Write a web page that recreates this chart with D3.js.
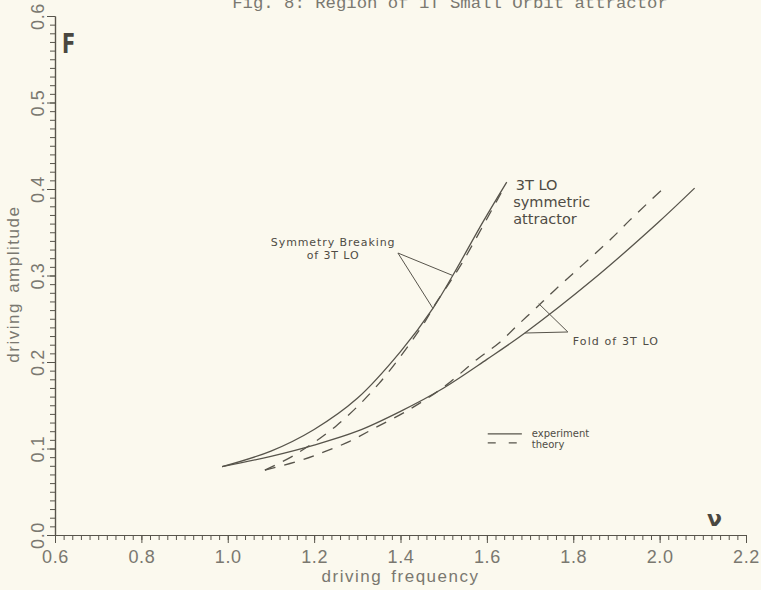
<!DOCTYPE html>
<html><head><meta charset="utf-8">
<script src="https://cdn.jsdelivr.net/npm/d3@7"></script>
<style>
html,body{margin:0;padding:0;background:#fbf9ee;}
svg{display:block;}
</style></head>
<body>
<svg id="chart" width="761" height="590"></svg>
<script>
// ---- data (driving frequency ν, driving amplitude F) ----
const xTickValues = [0.6, 0.8, 1.0, 1.2, 1.4, 1.6, 1.8, 2.0, 2.2];
const yTickValues = [0.0, 0.1, 0.2, 0.3, 0.4, 0.5, 0.6];

// experiment: symmetry-breaking boundary of 3T LO (left, steep)
const expSymBreak = [
  [0.987, 0.079], [1.10, 0.097], [1.20, 0.122], [1.30, 0.158],
  [1.40, 0.212], [1.475, 0.262], [1.521, 0.300], [1.591, 0.362], [1.646, 0.408]
];
// experiment: fold of 3T LO (right)
const expFold = [
  [0.987, 0.079], [1.10, 0.091], [1.20, 0.104], [1.30, 0.120],
  [1.40, 0.143], [1.50, 0.170], [1.60, 0.203], [1.688, 0.2335],
  [1.845, 0.295], [1.996, 0.361], [2.081, 0.401]
];
// theory: symmetry breaking
const thSymBreak = [
  [1.086, 0.075], [1.153, 0.092], [1.253, 0.127], [1.35, 0.175],
  [1.452, 0.243], [1.482, 0.268], [1.514, 0.292], [1.542, 0.314], [1.637, 0.399]
];
// theory: fold
const thFold = [
  [1.086, 0.075], [1.167, 0.086], [1.223, 0.096], [1.281, 0.108],
  [1.334, 0.122], [1.42, 0.145], [1.50, 0.171], [1.577, 0.203],
  [1.628, 0.222], [1.672, 0.243], [1.713, 0.262], [1.757, 0.283],
  [1.889, 0.343], [1.931, 0.364], [1.973, 0.384], [2.012, 0.402]
];

const titleText = "Fig. 8: Region of 1T Small Orbit attractor";
const xTitle = "driving frequency";
const yTitle = "driving amplitude";

// ---- layout ----
const svg = d3.select("#chart");
const W = 761, H = 590;
const x = d3.scaleLinear().domain([0.6, 2.2]).range([55, 746]);
const y = d3.scaleLinear().domain([0, 0.6]).range([535, 16]);
const ink = "#57544b";
const gray = "#7a7870";
const labFont = "'Liberation Sans', Arial, sans-serif";

svg.append("rect").attr("width", W).attr("height", H).attr("fill", "#fbf9ee");

// title (cut off at top, as in the scan)
svg.append("text").attr("x", 450).attr("y", 8)
  .attr("text-anchor", "middle")
  .attr("font-family", "'Liberation Mono', 'DejaVu Sans Mono', monospace")
  .attr("font-size", 17.3).attr("fill", gray)
  .text(titleText);

// ---- axes ----
const xMinor = d3.range(0, 81).map(i => 0.6 + i * 0.02);
const yMinor = d3.range(0, 61).map(i => i * 0.01);

const gx = svg.append("g").attr("transform", `translate(0,${y(0)})`);
gx.call(d3.axisBottom(x).tickValues(xMinor).tickSize(5).tickFormat("").tickSizeOuter(0));
const gxMajor = gx.append("g").call(d3.axisBottom(x).tickValues(xTickValues).tickSize(8).tickFormat(d3.format(".1f")).tickSizeOuter(0));
gx.selectAll("path.domain").attr("stroke", ink).attr("stroke-width", 1.2);
gx.selectAll("line").attr("stroke", ink).attr("stroke-width", 1);
gxMajor.selectAll("text").attr("font-family", labFont)
  .attr("font-size", 18).attr("fill", gray).attr("letter-spacing", 0.6).attr("dy", "0.95em");

const gy = svg.append("g").attr("transform", `translate(${x(0.6)},0)`);
gy.call(d3.axisLeft(y).tickValues(yMinor).tickSize(5).tickFormat("").tickSizeOuter(0));
const gyMajor = gy.append("g").call(d3.axisLeft(y).tickValues(yTickValues).tickSize(8).tickFormat(d3.format(".1f")).tickSizeOuter(0));
gy.selectAll("path.domain").attr("stroke", ink).attr("stroke-width", 1.2);
gy.selectAll("line").attr("stroke", ink).attr("stroke-width", 1);
gyMajor.selectAll("text")
  .attr("font-family", labFont)
  .attr("font-size", 18).attr("fill", gray).attr("letter-spacing", 0.6)
  .attr("text-anchor", "middle")
  .attr("x", null).attr("dy", null)
  .attr("transform", "translate(-11,0) rotate(-90)");

// axis titles
svg.append("text").attr("x", (x(0.6) + x(2.2)) / 2).attr("y", 582)
  .attr("text-anchor", "middle")
  .attr("font-family", labFont)
  .attr("font-size", 17).attr("fill", gray).attr("letter-spacing", 1.5)
  .attr("word-spacing", 3)
  .text(xTitle);
svg.append("text")
  .attr("transform", `translate(19,${y(0.29)}) rotate(-90)`)
  .attr("text-anchor", "middle")
  .attr("font-family", labFont)
  .attr("font-size", 17).attr("fill", gray).attr("letter-spacing", 1.5)
  .attr("word-spacing", 3)
  .text(yTitle);

// axis symbols
svg.append("text").attr("x", 62).attr("y", 53)
  .attr("font-family", "'DejaVu Sans', sans-serif").attr("font-weight", "bold")
  .attr("font-size", 27).attr("fill", "#4a4740")
  .attr("transform", "translate(62,0) scale(0.72,1) translate(-62,0)")
  .text("F");
svg.append("text").attr("x", 707).attr("y", 526)
  .attr("font-family", "'DejaVu Sans', sans-serif").attr("font-weight", "bold")
  .attr("font-size", 22).attr("fill", "#4a4740")
  .text("ν");

// ---- curves ----
const line = d3.line().x(d => x(d[0])).y(d => y(d[1])).curve(d3.curveCatmullRom.alpha(0.5));
const plot = svg.append("g").attr("fill", "none").attr("stroke", ink).attr("stroke-width", 1.3);
plot.append("path").attr("d", line(expSymBreak));
plot.append("path").attr("d", line(expFold));
plot.append("path").attr("d", line(thSymBreak)).attr("stroke-dasharray", "11,9");
plot.append("path").attr("d", line(thFold)).attr("stroke-dasharray", "11,9");

// ---- annotations ----
const annFont = "'DejaVu Sans', Verdana, sans-serif";
const ann = svg.append("g").attr("stroke", ink).attr("stroke-width", 1).attr("fill", "none");
// symmetry breaking leader
const symApex = [1.394, 0.326];
[[1.521, 0.300], [1.475, 0.262]].forEach(p => {
  ann.append("line").attr("x1", x(symApex[0])).attr("y1", y(symApex[1]))
    .attr("x2", x(p[0])).attr("y2", y(p[1]));
});
// fold leader
const foldApex = [1.7875, 0.2347];
[[1.688, 0.2335], [1.720, 0.2675]].forEach(p => {
  ann.append("line").attr("x1", x(foldApex[0])).attr("y1", y(foldApex[1]))
    .attr("x2", x(p[0])).attr("y2", y(p[1]));
});

const txt = svg.append("g").attr("fill", "#4f4c45").attr("font-family", annFont);
txt.append("text").attr("x", x(1.244)).attr("y", y(0.334)).attr("text-anchor", "middle")
  .attr("font-size", 11).attr("letter-spacing", 0.9).text("Symmetry Breaking");
txt.append("text").attr("x", x(1.244)).attr("y", y(0.319)).attr("text-anchor", "middle")
  .attr("font-size", 11).attr("letter-spacing", 0.9).text("of 3T LO");
txt.append("text").attr("x", x(1.799)).attr("y", y(0.2197))
  .attr("font-size", 11).attr("letter-spacing", 1.1).text("Fold of 3T LO");

txt.append("text").attr("x", x(1.667)).attr("y", y(0.399))
  .attr("font-size", 14.5).text("3T LO");
txt.append("text").attr("x", x(1.661)).attr("y", y(0.379))
  .attr("font-size", 14.5).text("symmetric");
txt.append("text").attr("x", x(1.661)).attr("y", y(0.360))
  .attr("font-size", 14.5).text("attractor");

// legend
const lg = svg.append("g");
lg.append("line").attr("x1", x(1.602)).attr("x2", x(1.681)).attr("y1", y(0.1168)).attr("y2", y(0.1168))
  .attr("stroke", ink).attr("stroke-width", 1.2);
lg.append("line").attr("x1", x(1.602)).attr("x2", x(1.681)).attr("y1", y(0.1064)).attr("y2", y(0.1064))
  .attr("stroke", ink).attr("stroke-width", 1.2).attr("stroke-dasharray", "8,13");
lg.append("text").attr("x", x(1.704)).attr("y", y(0.1138)).attr("font-family", annFont)
  .attr("font-size", 10).attr("fill", "#4f4c45").text("experiment");
lg.append("text").attr("x", x(1.704)).attr("y", y(0.1010)).attr("font-family", annFont)
  .attr("font-size", 10).attr("fill", "#4f4c45").text("theory");
</script>
</body></html>
